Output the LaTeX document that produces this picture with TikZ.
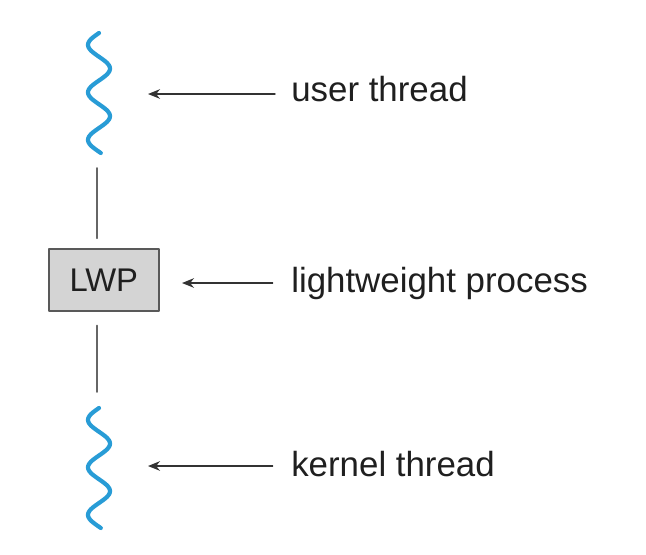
\documentclass[tikz,border=0pt]{standalone}
\usepackage{fontspec}
\setmainfont{Liberation Sans}
\usetikzlibrary{arrows.meta}
\definecolor{threadblue}{RGB}{40,156,214}
\definecolor{boxgray}{RGB}{212,212,212}

\begin{document}
\begin{tikzpicture}[x=0.025cm,y=-0.025cm,line cap=round,line join=round,
  wave/.style={threadblue,line width=0.105cm},
  link/.style={black!60,line width=0.045cm},
  arr/.style={-{Stealth[length=0.3cm,width=0.24cm]},black!80,line width=0.035cm},
  lbl/.style={anchor=base west,inner xsep=0.4cm,font=\fontsize{24.8}{29}\selectfont,text=black!88}]
 \useasboundingbox (0,0) rectangle (646,554);
 % user thread
 \draw[wave] plot[domain=0:120,samples=90,smooth] ({99-11*sin(7.579*\x)},{33+\x});
 \coordinate (utop) at (99,33); \coordinate (ubot) at (97,153); \coordinate (utip) at (148,94);
 % lightweight process
 \node[draw=black!65,fill=boxgray,line width=0.05cm,minimum width=2.75cm,minimum height=1.55cm,
   font=\fontsize{23.3}{27}\selectfont,text=black!88] (lwp) at (103.8,280.3) {LWP};
 \coordinate (ptip) at (182,283);
 % kernel thread
 \draw[wave] plot[domain=0:120,samples=90,smooth] ({99-11*sin(7.579*\x)},{408+\x});
 \coordinate (ktop) at (97,408); \coordinate (ktip) at (148,466);
 % links
 \draw[link,shorten <=0.375cm,shorten >=0.25cm] (ubot) -- (lwp.north -| ubot);
 \draw[link,shorten <=0.33cm,shorten >=0.4cm] (lwp.south -| ktop) -- (ktop);
 % labels
 \node[lbl] (ulabel) at (275,101.7) {user thread};
 \node[lbl] (plabel) at (275,292.5) {lightweight process};
 \node[lbl] (klabel) at (275,476.7) {kernel thread};
 \draw[arr] (ulabel.west |- utip) -- (utip);
 \draw[arr] ([xshift=-0.06cm]plabel.west |- ptip) -- (ptip);
 \draw[arr] ([xshift=-0.06cm]klabel.west |- ktip) -- (ktip);
\end{tikzpicture}
\end{document}
